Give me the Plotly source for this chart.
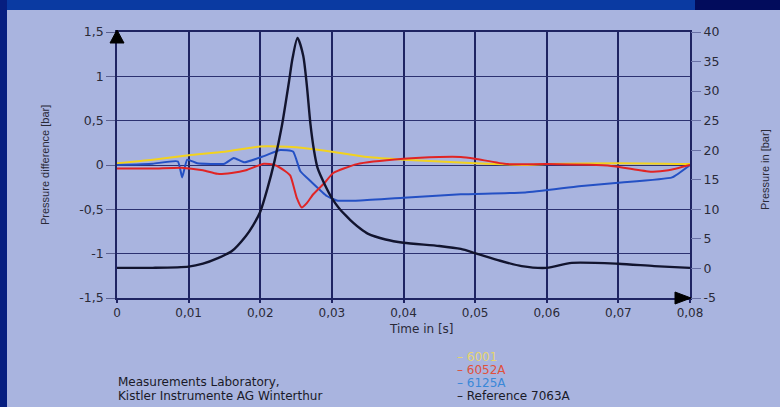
import plotly.graph_objects as go

# ---------------- data ----------------
t_ref = [0, 0.005, 0.01, 0.012, 0.014, 0.016, 0.018, 0.019, 0.020, 0.021, 0.022, 0.023,
         0.024, 0.0245, 0.0252, 0.026, 0.0265, 0.027, 0.0275, 0.028, 0.029, 0.030,
         0.031, 0.032, 0.033, 0.034, 0.035, 0.0375, 0.04, 0.045, 0.048, 0.050, 0.0535,
         0.0565, 0.06, 0.0635, 0.07, 0.075, 0.08]
p_ref = [0.1, 0.1, 0.3, 0.8, 1.7, 2.9, 5.5, 7.3, 9.6, 13.5, 18.2, 24,
         31.5, 35.5, 39, 36, 31, 24.5, 20, 17, 14.2, 11.9,
         10.2, 8.9, 7.7, 6.7, 5.9, 4.9, 4.35, 3.8, 3.3, 2.6, 1.3,
         0.4, 0.1, 0.95, 0.8, 0.4, 0.1]

t_6001 = [0, 0.005, 0.01, 0.015, 0.02, 0.0225, 0.025, 0.03, 0.035, 0.04, 0.05, 0.057,
          0.06, 0.07, 0.08]
d_6001 = [0.02, 0.06, 0.11, 0.15, 0.21, 0.21, 0.2, 0.15, 0.09, 0.06, 0.02, 0.0,
          0.01, 0.02, 0.01]

t_6052 = [0, 0.005, 0.009, 0.012, 0.014, 0.016, 0.018, 0.0205, 0.022, 0.0235, 0.0242,
          0.0251, 0.0258, 0.0265, 0.0274, 0.029, 0.0302, 0.0335, 0.04, 0.045, 0.048,
          0.050, 0.0545, 0.06, 0.069, 0.0745, 0.077, 0.08]
d_6052 = [-0.04, -0.04, -0.03, -0.06, -0.1, -0.09, -0.06, 0.015, 0.0, -0.07, -0.12,
          -0.37, -0.48, -0.43, -0.33, -0.2, -0.09, 0.01, 0.07, 0.09, 0.09,
          0.07, 0.01, 0.01, -0.01, -0.075, -0.06, 0.0]

t_6125 = [0, 0.005, 0.0085, 0.0091, 0.0098, 0.0112, 0.015, 0.0163, 0.0178, 0.0205,
          0.0228, 0.0246, 0.0256, 0.027, 0.0293, 0.0307, 0.034, 0.04, 0.048, 0.057,
          0.0645, 0.07, 0.0775, 0.08]
d_6125 = [0.0, 0.015, 0.04, -0.14, 0.06, 0.02, 0.015, 0.08, 0.03, 0.1,
          0.17, 0.15, -0.07, -0.18, -0.35, -0.4, -0.4, -0.37, -0.33, -0.31,
          -0.24, -0.2, -0.14, 0.0]

x_tickvals = [0, 0.01, 0.02, 0.03, 0.04, 0.05, 0.06, 0.07, 0.08]
x_ticktext = ["0", "0,01", "0,02", "0,03", "0,04", "0,05", "0,06", "0,07", "0,08"]
yl_tickvals = [-1.5, -1, -0.5, 0, 0.5, 1, 1.5]
yl_ticktext = ["-1,5", "-1", "-0,5", "0", "0,5", "1", "1,5"]
yr_tickvals = [-5, 0, 5, 10, 15, 20, 25, 30, 35, 40]
yr_ticktext = ["-5", "0", "5", "10", "15", "20", "25", "30", "35", "40"]

legend_names = ["6001", "6052A", "6125A", "Reference 7063A"]
credit_lines = ["Measurements Laboratory,", "Kistler Instrumente AG Winterthur"]

# ---------------- layout geometry ----------------
W, H = 780, 407
L, R, T, B = 117, 690, 32, 298  # plot area in pixels


def px(x):
    return (x - L) / (R - L)


def py(y):
    return (B - y) / (B - T)


PANEL = "#a9b4df"
GRID = "#1f2462"
TXT = "#2a2a38"
FONT = "DejaVu Sans"

fig = go.Figure()
fig.add_trace(go.Scatter(x=t_6001, y=d_6001, mode="lines", name=legend_names[0],
                         line=dict(color="#f2d21e", width=2, shape="spline", smoothing=0.6)))
fig.add_trace(go.Scatter(x=t_6125, y=d_6125, mode="lines", name=legend_names[2],
                         line=dict(color="#2450c4", width=2, shape="spline", smoothing=0.4)))
fig.add_trace(go.Scatter(x=t_6052, y=d_6052, mode="lines", name=legend_names[1],
                         line=dict(color="#e02424", width=2, shape="spline", smoothing=0.5)))
fig.add_trace(go.Scatter(x=t_ref, y=p_ref, mode="lines", name=legend_names[3], yaxis="y2",
                         line=dict(color="#12142e", width=2.4, shape="spline", smoothing=0.7)))

shapes = [
    # slide background strips
    dict(type="rect", xref="paper", yref="paper", x0=px(0), x1=px(W), y0=py(10), y1=py(0),
         fillcolor="#0a3aa2", line_width=0, layer="below"),
    dict(type="rect", xref="paper", yref="paper", x0=px(695), x1=px(W), y0=py(10), y1=py(0),
         fillcolor="#020c5c", line_width=0, layer="below"),
    dict(type="rect", xref="paper", yref="paper", x0=px(0), x1=px(7), y0=py(H), y1=py(0),
         fillcolor="#061e80", line_width=0, layer="below"),
    # axis arrows
    dict(type="path", xref="paper", yref="paper",
         path=f"M {px(110)},{py(43)} L {px(124)},{py(43)} L {px(117)},{py(30)} Z",
         fillcolor="#000000", line=dict(color="#000000", width=1)),
    dict(type="path", xref="paper", yref="paper",
         path=f"M {px(675)},{py(292)} L {px(675)},{py(304)} L {px(691)},{py(298)} Z",
         fillcolor="#000000", line=dict(color="#000000", width=1)),
]

annotations = [
    dict(text="Pressure difference [bar]", xref="paper", yref="paper", x=px(45), y=py(165),
         xanchor="center", yanchor="middle",
         textangle=-90, showarrow=False, font=dict(family="Liberation Sans", size=11, color=TXT)),
    dict(text="Pressure in [bar]", xref="paper", yref="paper", x=px(765), y=py(170),
         xanchor="center", yanchor="middle",
         textangle=-90, showarrow=False, font=dict(family="Liberation Sans", size=11, color=TXT)),
    dict(text="Time in [s]", xref="paper", yref="paper", x=px(421), y=py(329),
         xanchor="center", yanchor="middle",
         showarrow=False, font=dict(family=FONT, size=12, color=TXT)),
]
for i, line in enumerate(credit_lines):
    annotations.append(dict(text=line, xref="paper", yref="paper", x=px(116), y=py(382 + 14 * i),
                            xanchor="left", yanchor="middle", showarrow=False,
                            font=dict(family=FONT, size=12, color="#1a1a28")))
legend_colors = ["#e6d66e", "#e0503c", "#3a88d8", "#1a1a28"]
for i, (name, col) in enumerate(zip(legend_names, legend_colors)):
    annotations.append(dict(text="– " + name, xref="paper", yref="paper", x=px(455),
                            y=py(357 + 13 * i), xanchor="left", yanchor="middle",
                            showarrow=False, font=dict(family=FONT, size=12, color=col)))

fig.update_layout(
    width=W, height=H,
    margin=dict(l=L, r=W - R, t=T, b=H - B, pad=0),
    paper_bgcolor=PANEL, plot_bgcolor=PANEL,
    showlegend=False,
    shapes=shapes, annotations=annotations,
    xaxis=dict(range=[0, 0.08], tickvals=x_tickvals, ticktext=x_ticktext,
               showgrid=True, gridcolor=GRID, gridwidth=1.5, zeroline=False,
               showline=True, mirror=True, linecolor=GRID, linewidth=1.6,
               ticks="outside", ticklen=3, tickcolor=GRID, tickwidth=1.5,
               tickfont=dict(family=FONT, size=12, color=TXT)),
    yaxis=dict(range=[-1.5, 1.5], tickvals=yl_tickvals, ticktext=yl_ticktext,
               showgrid=True, gridcolor="#2c3170", gridwidth=1.1, zeroline=False,
               showline=True, mirror=True, linecolor=GRID, linewidth=1.6,
               ticks="outside", ticklen=9, tickcolor="#5a6090", tickwidth=1.2,
               tickfont=dict(family=FONT, size=12.5, color=TXT)),
    yaxis2=dict(range=[-5, 40], tickvals=yr_tickvals, ticktext=yr_ticktext,
                overlaying="y", side="right", showgrid=False, zeroline=False,
                showline=False, ticks="outside", ticklen=10, tickcolor="#6a72a6", tickwidth=1.2,
                tickfont=dict(family=FONT, size=12.5, color=TXT)),
)

fig.write_html(
    "out.html",
    config={"displayModeBar": False},
    post_script="document.body.style.margin='0';document.body.style.padding='0';"
                "document.body.style.overflow='hidden';",
)
